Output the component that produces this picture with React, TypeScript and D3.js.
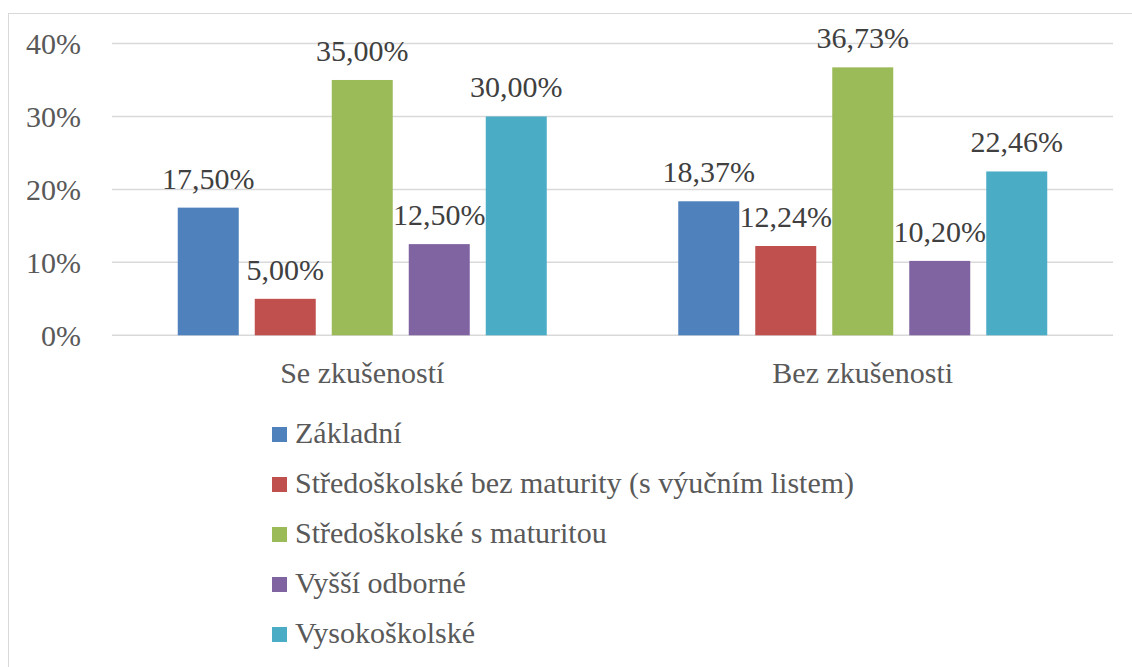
import React from "react";
import * as d3 from "d3";

const categories = ["Se zkušeností", "Bez zkušenosti"];
const seriesNames = [
  "Základní",
  "Středoškolské bez maturity (s výučním listem)",
  "Středoškolské s maturitou",
  "Vyšší odborné",
  "Vysokoškolské",
];
const seriesColors = ["#4F81BD", "#C0504D", "#9BBB59", "#8064A2", "#4BACC6"];
// values per series: [Se zkušeností, Bez zkušenosti]
const zakladni = [17.5, 18.37];
const bezMaturity = [5.0, 12.24];
const sMaturitou = [35.0, 36.73];
const vyssiOdborne = [12.5, 10.2];
const vysokoskolske = [30.0, 22.46];
const seriesValues = [zakladni, bezMaturity, sMaturitou, vyssiOdborne, vysokoskolske];
const yTicks = [0, 10, 20, 30, 40];

const W = 1132;
const H = 667;
const plotLeft = 112;
const plotRight = 1113;
const yBottom = 335.3;
const yTop = 43.5;
const font =
  '"Liberation Serif", Tinos, "Times New Roman", Times, "Noto Serif", "Nimbus Roman", FreeSerif, "DejaVu Serif", serif';

export default function App() {
  const y = d3.scaleLinear().domain([0, 40]).range([yBottom, yTop]);
  const x0 = d3.scaleBand<string>().domain(categories).range([plotLeft, plotRight]).padding(0);
  const inner = 369;
  const off = (x0.bandwidth() - inner) / 2;
  const x1 = d3
    .scaleBand<number>()
    .domain(d3.range(seriesNames.length))
    .range([off, off + inner])
    .paddingInner(16 / 77)
    .paddingOuter(0);
  const fmt = (v: number) => v.toFixed(2).replace(".", ",") + "%";
  const ts = { fontFamily: font };

  return (
    <svg
      width={W}
      height={H}
      style={{ position: "absolute", left: 0, top: 0, background: "#fff", fontFamily: font }}
    >
      <rect x={8.5} y={13.5} width={1200} height={700} fill="#fff" stroke="#D9D9D9" strokeWidth={1} />
      {yTicks.map((t) => (
        <g key={t}>
          <line x1={plotLeft} x2={plotRight} y1={y(t)} y2={y(t)} stroke="#D9D9D9" strokeWidth={1.5} />
          <text x={81} y={y(t)} dy="0.35em" textAnchor="end" fontSize={30} fill="#595959" style={ts}>
            {t}%
          </text>
        </g>
      ))}
      {categories.map((c, ci) => (
        <g key={c} transform={`translate(${x0(c)},0)`}>
          {seriesValues.map((vals, si) => (
            <rect
              key={si}
              x={x1(si)}
              y={y(vals[ci])}
              width={x1.bandwidth()}
              height={yBottom - y(vals[ci])}
              fill={seriesColors[si]}
            />
          ))}
          {seriesValues.map((vals, si) => (
            <text
              key={"l" + si}
              x={(x1(si) as number) + x1.bandwidth() / 2}
              y={y(vals[ci]) - 19}
              textAnchor="middle"
              fontSize={30}
              fill="#404040"
              style={ts}
            >
              {fmt(vals[ci])}
            </text>
          ))}
          <text
            x={x0.bandwidth() / 2}
            y={383}
            textAnchor="middle"
            fontSize={30}
            fill="#595959"
            style={ts}
          >
            {c}
          </text>
        </g>
      ))}
      {seriesNames.map((n, i) => (
        <g key={n}>
          <rect x={272} y={427 + i * 50} width={15} height={15} fill={seriesColors[i]} />
          <text x={295} y={443 + i * 50} fontSize={30} fill="#595959" style={ts}>
            {n}
          </text>
        </g>
      ))}
    </svg>
  );
}
